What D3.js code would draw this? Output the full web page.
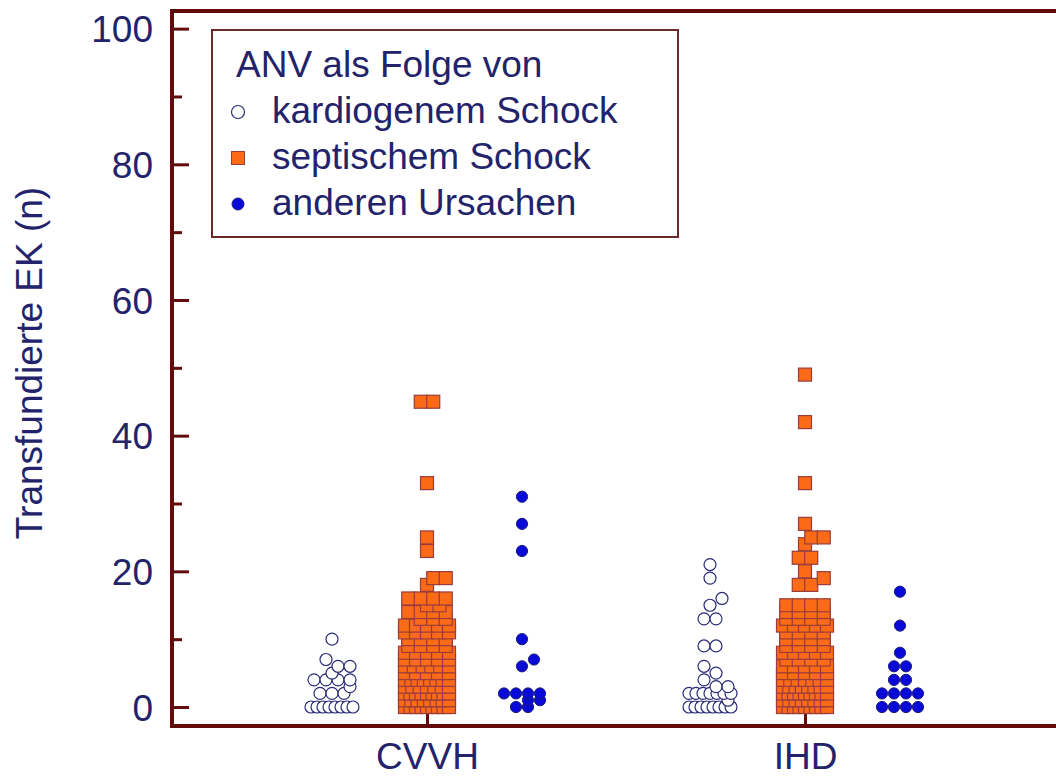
<!DOCTYPE html>
<html>
<head>
<meta charset="utf-8">
<script src="https://cdn.jsdelivr.net/npm/d3@7"></script>
<style>
  html, body { margin: 0; padding: 0; background: #ffffff; }
  svg { display: block; }
  text { font-family: "Liberation Sans", Arial, Helvetica, sans-serif; }
</style>
</head>
<body>
<svg id="chart" width="1056" height="778"></svg>
<script>
// Categories, series and axis text
const categories = ["CVVH", "IHD"];
const seriesNames = ["kardiogenem Schock", "septischem Schock", "anderen Ursachen"];
const legendTitle = "ANV als Folge von";
const yLabel = "Transfundierte EK (n)";
const yMajorTicks = [0, 20, 40, 60, 80, 100];
const yMinorTicks = [10, 30, 50, 70, 90];

// Transfused red cell units per patient
const cvvhKardiogen = [0,0,0,0,0,0,0,0, 2,2,2, 3, 4,4,4,4, 5, 6,6, 7, 10];
const cvvhSeptisch = [
  0,0,0,0,0,0,0,0,0,
  1,1,1,1,1,1,1,1,
  2,2,2,2,2,2,2,2,2,
  3,3,3,3,3,3,3,
  4,4,4,4,4,4,4,4,
  5,5,5,5,5,
  6,6,6,6,6,6,
  7,7,7,7,7,
  8,8,8,8,8,
  9,9,9,9,
  10,10,10,10,
  11,11,11,11,11,
  12,12,12,12,12,
  13,13,13,
  14,14,14,14,
  15,15,
  16,16,16,16,
  18, 19,19, 23, 25, 33, 45,45
];
const cvvhAndere = [0,0, 1,1, 2,2,2,2, 6, 7, 10, 23, 27, 31];

const ihdKardiogen = [0,0,0,0,0,0,0,0, 1, 2,2,2,2,2,2,2, 3,3, 4, 5, 6, 9,9, 13,13, 15, 16, 19, 21];
const ihdSeptisch = [
  0,0,0,0,0,0,0,0,0,
  1,1,1,1,1,1,1,1,
  2,2,2,2,2,2,2,2,2,
  3,3,3,3,3,3,3,3,
  4,4,4,4,4,4,4,
  5,5,5,5,5,
  6,6,6,6,6,
  7,7,7,7,
  8,8,8,8,8,
  9,9,9,9,
  10,10,10,10,
  11,11,11,11,
  12,12,12,12,12,
  13,13,13,13,
  14,14,14,14,
  15,15,15,15,
  18,18, 19, 20, 22,22, 24, 25,25, 27, 33, 42, 49
];
const ihdAndere = [0,0,0,0, 2,2,2,2, 4,4, 6,6, 8, 12, 17];

const groups = [
  { category: "CVVH", series: 0, values: cvvhKardiogen },
  { category: "CVVH", series: 1, values: cvvhSeptisch },
  { category: "CVVH", series: 2, values: cvvhAndere },
  { category: "IHD",  series: 0, values: ihdKardiogen },
  { category: "IHD",  series: 1, values: ihdSeptisch },
  { category: "IHD",  series: 2, values: ihdAndere }
];

// Look of each series: open circle, orange square, filled blue dot
const styles = [
  { shape: "circle", r: 6, fill: "#ffffff", stroke: "#2b2b78", sw: 1.2, size: 12, step: 12, half: 21 },
  { shape: "square", side: 13, fill: "#fa6a17", stroke: "#9a3c3c", sw: 1.2, size: 13, step: 12.5, half: 22 },
  { shape: "circle", r: 5.6, fill: "#0a0ad8", stroke: "#1c1c7a", sw: 1, size: 11.5, step: 12, half: 18 }
];

const axisColor = "#640c0c";
const textColor = "#23236b";
const fontSize = 37;

const svg = d3.select("#chart");

// Plot frame
const plot = { left: 172, top: 11, bottom: 726, right: 1070 };

const y = d3.scaleLinear().domain([-2.8, 102.6]).range([plot.bottom, plot.top]);
const x = d3.scalePoint().domain(categories).range([427, 805]);
const sub = d3.scalePoint().domain(d3.range(seriesNames.length)).range([-95, 95]);

// Frame lines
const frame = svg.append("g").attr("stroke", axisColor).attr("stroke-width", 4).attr("fill", "none");
frame.append("line").attr("x1", plot.left).attr("x2", plot.left).attr("y1", plot.top - 2).attr("y2", plot.bottom + 2);
frame.append("line").attr("x1", plot.left - 2).attr("x2", plot.right).attr("y1", plot.top).attr("y2", plot.top);
frame.append("line").attr("x1", plot.left - 2).attr("x2", plot.right).attr("y1", plot.bottom).attr("y2", plot.bottom);

// Left axis: major ticks with labels, minor ticks without
const yAxisMajor = svg.append("g")
  .attr("transform", `translate(${plot.left},0)`)
  .call(d3.axisLeft(y).tickValues(yMajorTicks).tickSizeInner(-17).tickSizeOuter(0).tickPadding(19));
const yAxisMinor = svg.append("g")
  .attr("transform", `translate(${plot.left},0)`)
  .call(d3.axisLeft(y).tickValues(yMinorTicks).tickSizeInner(-10).tickSizeOuter(0).tickFormat(""));

// Bottom axis
const xAxis = svg.append("g")
  .attr("transform", `translate(0,${plot.bottom})`)
  .call(d3.axisBottom(x).tickSizeInner(-13).tickSizeOuter(0).tickPadding(17));

[yAxisMajor, yAxisMinor, xAxis].forEach(g => {
  g.select(".domain").remove();
  g.selectAll(".tick line").attr("stroke", axisColor).attr("stroke-width", 3);
  g.selectAll(".tick text")
    .attr("fill", textColor)
    .style("font-size", fontSize + "px")
    .style("font-family", '"Liberation Sans", Arial, sans-serif');
});
yAxisMajor.selectAll(".tick text").attr("dy", "0.36em");

// Y axis title
svg.append("text")
  .attr("transform", `translate(42,363) rotate(-90)`)
  .attr("text-anchor", "middle")
  .attr("fill", textColor)
  .style("font-size", fontSize + "px")
  .text(yLabel);

// Dot-plot layout: equal values share a row, spread sideways and squeezed
// to the group width; small rows slide sideways to avoid neighbours.
function layoutGroup(values, cx, st) {
  const rows = d3.rollups(values, v => v.length, d => d).sort((a, b) => a[0] - b[0]);
  const placed = [];
  for (const [v, n] of rows) {
    const span = (n - 1) * st.step;
    let step = st.step, shiftMax = 0;
    if (span > 2 * st.half) step = 2 * st.half / (n - 1);
    else shiftMax = st.half - span / 2;
    const base = d3.range(n).map(i => (i - (n - 1) / 2) * step);
    const cands = [0];
    for (let s = st.step / 2; s <= shiftMax + 1e-6; s += st.step / 2) cands.push(s, -s);
    let best = 0, bestCost = Infinity;
    const yv = y(v);
    for (const s of cands) {
      let cost = 0;
      for (const b of base) {
        for (const p of placed) {
          const dx = Math.abs(cx + b + s - p.x), dy = Math.abs(yv - p.y);
          if (dx < st.size && dy < st.size) cost += (st.size - dx) * (st.size - dy);
        }
      }
      if (cost < bestCost - 1e-9) { bestCost = cost; best = s; }
    }
    base.forEach(b => placed.push({ value: v, x: cx + b + best, y: yv }));
  }
  return placed;
}

function drawMarks(sel, st) {
  if (st.shape === "square") {
    sel.append("rect")
      .attr("x", d => d.x - st.side / 2)
      .attr("y", d => d.y - st.side / 2)
      .attr("width", st.side)
      .attr("height", st.side)
      .attr("fill", st.fill)
      .attr("stroke", st.stroke)
      .attr("stroke-width", st.sw);
  } else {
    sel.append("circle")
      .attr("cx", d => d.x)
      .attr("cy", d => d.y)
      .attr("r", st.r)
      .attr("fill", st.fill)
      .attr("stroke", st.stroke)
      .attr("stroke-width", st.sw);
  }
}

const marks = svg.append("g");
groups.forEach(g => {
  const st = styles[g.series];
  const cx = x(g.category) + sub(g.series);
  const pts = layoutGroup(g.values, cx, st);
  const sel = marks.append("g").selectAll("g").data(pts).join("g");
  drawMarks(sel, st);
});

// Legend
const legend = svg.append("g");
legend.append("rect")
  .attr("x", 212).attr("y", 30).attr("width", 466).attr("height", 207)
  .attr("fill", "#ffffff").attr("stroke", "#6b2a2a").attr("stroke-width", 2);
legend.append("text")
  .attr("x", 236).attr("y", 77)
  .attr("fill", textColor).style("font-size", fontSize + "px")
  .text(legendTitle);
const legendStyles = [
  { shape: "circle", r: 6.5, fill: "#ffffff", stroke: "#2b2b78", sw: 1.2 },
  { shape: "square", side: 13, fill: "#fa6a17", stroke: "#9a3c3c", sw: 1 },
  { shape: "circle", r: 6, fill: "#0a0ad8", stroke: "#1c1c7a", sw: 1 }
];
seriesNames.forEach((name, i) => {
  const base = 123 + i * 46;
  const item = legend.append("g");
  drawMarks(item.selectAll("g").data([{ x: 238, y: base - 11 }]).join("g"), legendStyles[i]);
  item.append("text")
    .attr("x", 272).attr("y", base)
    .attr("fill", textColor).style("font-size", fontSize + "px")
    .text(name);
});
</script>
</body>
</html>
